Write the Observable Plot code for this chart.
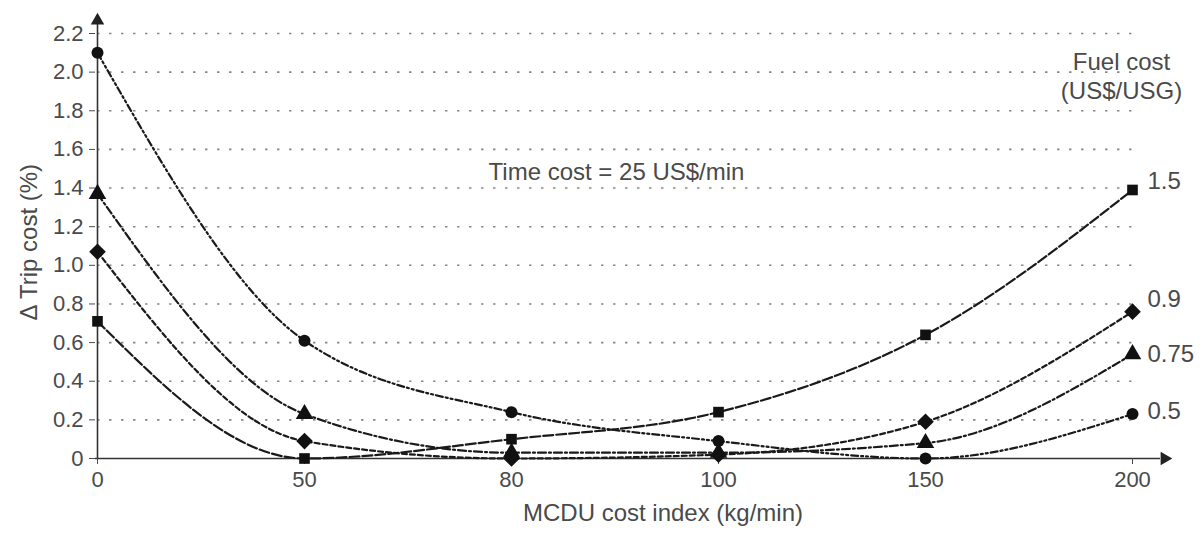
<!DOCTYPE html>
<html><head><meta charset="utf-8">
<script src="https://cdn.jsdelivr.net/npm/d3@7"></script>
<script src="https://cdn.jsdelivr.net/npm/@observablehq/plot@0.6"></script>
<style>
body{margin:0;background:#fff;}
#chart svg{display:block;}
</style>
</head><body><div id="chart"></div>
<script>
// MCDU cost index categories (kg/min)
const costIndex = [0, 50, 80, 100, 150, 200];
// Δ trip cost (%) per fuel cost (US$/USG)
const fuel15  = [0.71, 0.00, 0.10, 0.24, 0.64, 1.39];
const fuel09  = [1.07, 0.09, 0.00, 0.02, 0.19, 0.76];
const fuel075 = [1.37, 0.23, 0.03, 0.03, 0.08, 0.54];
const fuel05  = [2.10, 0.61, 0.24, 0.09, 0.00, 0.23];
const seriesNames = ["1.5", "0.9", "0.75", "0.5"];
const seriesValues = [fuel15, fuel09, fuel075, fuel05];
const yTicks = [0, 0.2, 0.4, 0.6, 0.8, 1.0, 1.2, 1.4, 1.6, 1.8, 2.0, 2.2];

const symbols = ["square", "diamond2", "triangle", "circle"];
const symbolR = [6, 7.5, 6.5, 6];
const dashes = ["10,3", "5,3", "8,3,2,3", "7,3,2,3,2,3"];
const labelDy = [-9, -12, 0, -3];

const rows = [];
seriesNames.forEach((s, i) => costIndex.forEach((x, j) => rows.push({series: s, x, y: seriesValues[i][j]})));
const lastRows = seriesNames.map((s, i) => ({series: s, x: costIndex[costIndex.length - 1], y: seriesValues[i][costIndex.length - 1]}));

const font = "'Liberation Sans', Arial, Helvetica, sans-serif";
const txt = "#4a4a4a";

const marks = [
  Plot.ruleY(yTicks.filter(d => d > 0), {x1: () => costIndex[0], x2: () => costIndex[costIndex.length - 1], stroke: "#8a8a8a", strokeWidth: 1.6, strokeDasharray: "2.5,9.5"}),
  Plot.ruleX([costIndex[0]], {stroke: "#333", strokeWidth: 1.6}),
  Plot.ruleY([0], {stroke: "#333", strokeWidth: 1.6}),
  Plot.dot([costIndex[0]], {x: d => d, frameAnchor: "top", symbol: "triangle", r: 5, fill: "#222", dy: -4}),
  Plot.dot([0], {y: d => d, frameAnchor: "right", symbol: "triangle", rotate: 90, r: 5, fill: "#222", dx: 4}),
  Plot.axisY(yTicks, {tickFormat: d => d === 0 ? "0" : d.toFixed(1), tickSize: 6, tickPadding: 6, fontSize: 22, color: txt, label: null}),
  Plot.axisX(costIndex, {tickSize: 6, tickPadding: 7, fontSize: 22, color: txt, label: null}),
  ...seriesNames.map((s, i) => Plot.line(rows.filter(r => r.series === s), {x: "x", y: "y", curve: "monotone-x", stroke: "#1a1a1a", strokeWidth: 2.2, strokeDasharray: dashes[i]})),
  ...seriesNames.map((s, i) => Plot.dot(rows.filter(r => r.series === s), {x: "x", y: "y", symbol: () => symbols[i], fill: "#111", r: symbolR[i]})),
  ...seriesNames.map((s, i) => Plot.text([lastRows[i]], {x: "x", y: "y", text: "series", textAnchor: "start", dx: 15, dy: labelDy[i], fontSize: 24, fill: txt})),
  Plot.text(["Fuel cost"], {x: () => costIndex[5], y: () => 2.05, text: d => d, dx: -11, fontSize: 24, fill: txt}),
  Plot.text(["(US$/USG)"], {x: () => costIndex[5], y: () => 1.9, text: d => d, dx: -11, fontSize: 24, fill: txt}),
  Plot.text(["Time cost = 25 US$/min"], {x: () => costIndex[2], y: () => 1.48, text: d => d, dx: 105, fontSize: 24, fill: txt}),
  Plot.text(["MCDU cost index (kg/min)"], {frameAnchor: "bottom", text: d => d, dx: 35, dy: 62, fontSize: 24, fill: txt}),
  Plot.text(["\u0394 Trip cost (%)"], {x: () => costIndex[0], y: () => 1.12, text: d => d, rotate: -90, dx: -68, fontSize: 24, fill: txt})
];

const chart = Plot.plot({
  width: 1204,
  height: 533,
  marginLeft: 95,
  marginRight: 44,
  marginTop: 24,
  marginBottom: 75,
  style: {fontFamily: font, background: "#fff", overflow: "visible"},
  x: {type: "point", domain: costIndex, range: [95, 1133], padding: 0},
  y: {domain: [0, 2.2], range: [458, 33]},
  marks
});
document.getElementById("chart").appendChild(chart);
</script>
</body></html>
